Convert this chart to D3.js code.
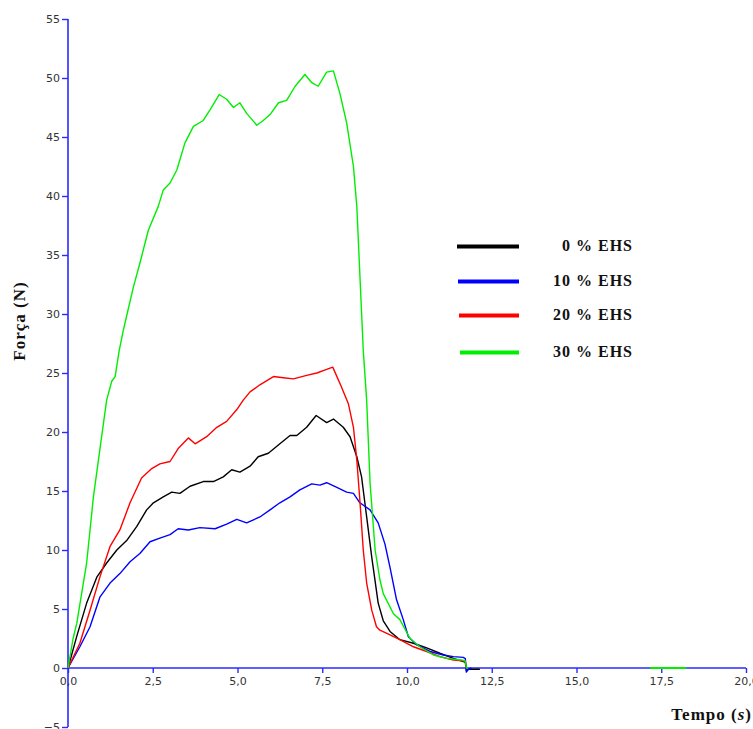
<!DOCTYPE html>
<html>
<head>
<meta charset="utf-8">
<script src="https://cdn.jsdelivr.net/npm/d3@7/dist/d3.min.js"></script>
<style>
  html, body { margin: 0; padding: 0; background: #fff; }
  svg { display: block; }
</style>
</head>
<body>
<svg id="chart" width="753" height="729"></svg>
<script>
// ---- data: [time (s), force (N)] ----
const seriesNames = ["0 % EHS", "10 % EHS", "20 % EHS", "30 % EHS"];
const seriesColors = ["#000000", "#0000ff", "#ff0000", "#00ee00"];

const ehs0 = [[0,0],[0.26,2.7],[0.55,5.5],[0.85,7.7],[1.14,8.9],[1.44,10.0],[1.73,10.8],[2.03,12.0],[2.32,13.4],[2.52,14.0],[2.81,14.5],[3.06,14.9],[3.30,14.8],[3.60,15.4],[3.99,15.8],[4.29,15.8],[4.58,16.2],[4.83,16.8],[5.07,16.6],[5.37,17.1],[5.61,17.9],[5.91,18.2],[6.25,19.0],[6.55,19.7],[6.75,19.7],[7.04,20.4],[7.32,21.4],[7.63,20.8],[7.83,21.1],[8.12,20.4],[8.32,19.6],[8.52,17.9],[8.66,16.2],[8.81,12.8],[8.96,9.4],[9.15,5.5],[9.30,4.0],[9.50,3.1],[9.79,2.4],[10.19,2.1],[10.58,1.7],[10.97,1.25],[11.37,0.82],[11.66,0.54],[11.72,0.5],[11.75,-0.2],[11.8,-0.1],[12.15,-0.1]];

const ehs10 = [[0,0],[0.35,1.8],[0.65,3.5],[0.94,6.0],[1.24,7.2],[1.53,8.0],[1.83,9.0],[2.12,9.7],[2.42,10.7],[2.71,11.0],[3.01,11.3],[3.25,11.8],[3.55,11.7],[3.89,11.9],[4.34,11.8],[4.68,12.2],[4.98,12.6],[5.27,12.3],[5.66,12.8],[5.96,13.4],[6.25,14.0],[6.55,14.5],[6.84,15.1],[7.19,15.6],[7.43,15.5],[7.63,15.7],[7.93,15.3],[8.22,14.9],[8.42,14.8],[8.61,14.0],[8.91,13.4],[9.15,12.3],[9.35,10.5],[9.50,8.5],[9.69,5.8],[9.89,4.1],[10.04,2.65],[10.29,1.95],[10.68,1.4],[11.07,1.1],[11.37,0.96],[11.66,0.9],[11.72,0.8],[11.75,-0.35],[11.82,-0.1],[11.9,0]];

const ehs20 = [[0,0],[0.35,2.1],[0.65,4.9],[0.94,7.7],[1.24,10.3],[1.53,11.7],[1.83,14.0],[2.17,16.1],[2.47,16.9],[2.71,17.3],[3.01,17.5],[3.25,18.6],[3.55,19.5],[3.75,19.0],[4.09,19.6],[4.39,20.4],[4.68,20.9],[4.98,21.9],[5.17,22.7],[5.37,23.4],[5.66,24.0],[6.06,24.7],[6.35,24.6],[6.65,24.5],[7.04,24.8],[7.34,25.0],[7.63,25.3],[7.81,25.5],[8.07,23.8],[8.27,22.4],[8.42,20.4],[8.52,17.6],[8.61,14.2],[8.71,10.0],[8.81,7.2],[8.96,4.9],[9.10,3.5],[9.20,3.2],[9.50,2.8],[9.79,2.4],[10.19,1.8],[10.58,1.4],[10.97,0.96],[11.37,0.68],[11.66,0.6],[11.72,0.55],[11.75,0]];

const ehs30 = [[0,0],[0.15,2.5],[0.26,3.8],[0.55,8.9],[0.75,14.5],[0.94,18.5],[1.14,22.7],[1.29,24.3],[1.39,24.7],[1.51,26.9],[1.63,28.6],[1.93,32.3],[2.12,34.3],[2.37,37.1],[2.66,39.1],[2.81,40.5],[3.01,41.1],[3.21,42.2],[3.45,44.5],[3.70,45.9],[3.99,46.4],[4.19,47.3],[4.46,48.6],[4.68,48.2],[4.88,47.5],[5.07,47.9],[5.27,47.0],[5.57,46.0],[5.76,46.4],[5.96,46.9],[6.21,47.9],[6.45,48.1],[6.70,49.3],[6.99,50.3],[7.19,49.6],[7.38,49.3],[7.63,50.5],[7.83,50.6],[8.02,48.7],[8.22,46.2],[8.42,42.5],[8.52,39.1],[8.59,34.6],[8.71,26.9],[8.81,22.7],[8.91,15.7],[9.06,10.0],[9.20,7.5],[9.30,6.3],[9.60,4.6],[9.79,4.1],[10.09,2.5],[10.38,1.8],[10.78,1.1],[11.17,0.82],[11.61,0.68],[11.72,0.6],[11.75,0],[11.8,0]];

const greenBaseline = [[17.17,0],[18.24,0]];

const xTicks = [0, 2.5, 5, 7.5, 10, 12.5, 15, 17.5, 20];
const yTicks = [-5, 0, 5, 10, 15, 20, 25, 30, 35, 40, 45, 50, 55];

const allSeries = [ehs0, ehs10, ehs20, ehs30];

// ---- chart ----
const svg = d3.select("#chart");
const x = d3.scaleLinear().domain([0, 20]).range([68, 746]);
const y = d3.scaleLinear().domain([-5, 55]).range([727, 19]);
const axisColor = "#2a2aff";

// y axis
const yAxis = svg.append("g")
  .attr("transform", `translate(${x(0)},0)`)
  .call(d3.axisLeft(y).tickValues(yTicks).tickSize(6).tickPadding(2).tickFormat(d3.format("d")));
// x axis
const xAxis = svg.append("g")
  .attr("transform", `translate(0,${y(0)})`)
  .call(d3.axisBottom(x).tickValues(xTicks).tickSize(5).tickPadding(4)
    .tickFormat(d => d3.format(".1f")(d).replace(".", ",")));

[yAxis, xAxis].forEach(g => {
  g.select(".domain").attr("stroke", axisColor).attr("stroke-width", 1.6);
  g.selectAll(".tick line").attr("stroke", axisColor).attr("stroke-width", 1.4);
  g.selectAll(".tick text").attr("fill", "#333").attr("font-family", "'DejaVu Sans', sans-serif").attr("font-size", 11);
});
xAxis.select(".domain").attr("d", `M${x(0)},0H${x(20)}`);
yAxis.select(".domain").attr("d", `M0,${y(55)}V${y(-5)}`);

// lines
const line = d3.line().x(d => x(d[0])).y(d => y(d[1]));
allSeries.forEach((s, i) => {
  svg.append("path").datum(s)
    .attr("fill", "none")
    .attr("stroke", seriesColors[i])
    .attr("stroke-width", 1.4)
    .attr("stroke-linejoin", "round")
    .attr("d", line);
});
svg.append("path").datum(greenBaseline)
  .attr("fill", "none").attr("stroke", seriesColors[3]).attr("stroke-width", 2)
  .attr("d", line);

// legend
const legendY = [246.5, 281.5, 315.5, 352.5];
const lg = svg.append("g");
seriesNames.forEach((name, i) => {
  lg.append("line")
    .attr("x1", 457 + i).attr("x2", 519)
    .attr("y1", legendY[i]).attr("y2", legendY[i])
    .attr("stroke", seriesColors[i]).attr("stroke-width", 4);
  lg.append("text")
    .attr("x", 633).attr("y", legendY[i] + 4)
    .attr("text-anchor", "end")
    .attr("font-family", "'Liberation Serif', 'Times New Roman', serif")
    .attr("font-weight", "bold").attr("font-size", 16)
    .attr("letter-spacing", 1)
    .attr("fill", "#111")
    .text(name);
});

// axis titles
svg.append("text")
  .attr("transform", "translate(25,321) rotate(-90)")
  .attr("text-anchor", "middle")
  .attr("font-family", "'Liberation Serif', 'Times New Roman', serif")
  .attr("font-weight", "bold").attr("font-size", 17).attr("letter-spacing", 1)
  .attr("fill", "#111")
  .text("Força (N)");

const tt = svg.append("text")
  .attr("x", 752).attr("y", 720)
  .attr("text-anchor", "end")
  .attr("font-family", "'Liberation Serif', 'Times New Roman', serif")
  .attr("font-weight", "bold").attr("font-size", 17).attr("letter-spacing", 1)
  .attr("fill", "#111");
tt.append("tspan").text("Tempo (");
tt.append("tspan").attr("font-style", "italic").text("s");
tt.append("tspan").text(")");
</script>
</body>
</html>
